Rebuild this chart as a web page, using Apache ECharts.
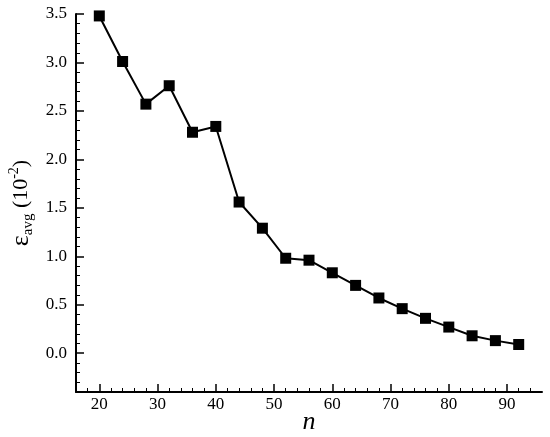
<!DOCTYPE html>
<html>
<head>
<meta charset="utf-8">
<script src="https://cdn.jsdelivr.net/npm/echarts@6/dist/echarts.min.js"></script>
<style>html,body{margin:0;padding:0;background:#fff;}#c{width:550px;height:437px;}</style>
</head>
<body>
<div id="c"></div>
<script>
const nValues = [20, 24, 28, 32, 36, 40, 44, 48, 52, 56, 60, 64, 68, 72, 76, 80, 84, 88, 92];
const epsAvg = [3.48, 3.01, 2.57, 2.76, 2.28, 2.34, 1.56, 1.29, 0.98, 0.96, 0.83, 0.70, 0.57, 0.46, 0.36, 0.27, 0.18, 0.13, 0.09];
const xTickLabels = [20, 30, 40, 50, 60, 70, 80, 90];
const yTickLabels = [0.0, 0.5, 1.0, 1.5, 2.0, 2.5, 3.0, 3.5];
const xMinorTicks = [18, 22, 24, 26, 28, 32, 34, 36, 38, 42, 44, 46, 48, 52, 54, 56, 58, 62, 64, 66, 68, 72, 74, 76, 78, 82, 84, 86, 88, 92, 94];
const yMinorTicks = [-0.3, -0.2, -0.1, 0.1, 0.2, 0.3, 0.4, 0.6, 0.7, 0.8, 0.9, 1.1, 1.2, 1.3, 1.4, 1.6, 1.7, 1.8, 1.9, 2.1, 2.2, 2.3, 2.4, 2.6, 2.7, 2.8, 2.9, 3.1, 3.2, 3.3, 3.4];

const FONT = '"Liberation Serif", "Times New Roman", serif';
const chart = echarts.init(document.getElementById('c'), null, {renderer: 'canvas'});
const X_MIN = 16, X_MAX = 96, Y_MIN = -0.4, Y_MAX = 3.5;

chart.setOption({
  animation: false,
  backgroundColor: '#fff',
  grid: {left: 76, right: 8, top: 14, bottom: 45, containLabel: false, outerBoundsMode: 'none'},
  xAxis: [{
    type: 'value', min: X_MIN, max: X_MAX, position: 'bottom',
    name: 'n', nameLocation: 'middle', nameGap: 17, nameMoveOverlap: false,
    nameTextStyle: {fontFamily: FONT, fontStyle: 'italic', fontSize: 26, color: '#000'},
    axisLine: {show: true, onZero: false, lineStyle: {color: '#000', width: 2}},
    axisTick: {show: true, inside: true, length: 8, customValues: xTickLabels, lineStyle: {color: '#000', width: 1.5}},
    axisLabel: {show: true, customValues: xTickLabels, margin: 4, fontFamily: FONT, fontSize: 17, color: '#000'},
    splitLine: {show: false}
  }, {
    type: 'value', min: X_MIN, max: X_MAX, position: 'bottom',
    axisLine: {show: false, onZero: false},
    axisTick: {show: true, inside: true, length: 4, customValues: xMinorTicks, lineStyle: {color: '#000', width: 1}},
    axisLabel: {show: false},
    splitLine: {show: false}
  }],
  yAxis: [{
    type: 'value', min: Y_MIN, max: Y_MAX, position: 'left',
    name: '{e|ε}{s|avg}{p| (10}{sup|-2}{p|)}', nameLocation: 'middle', nameGap: 38, nameRotate: 90, nameMoveOverlap: false,
    nameTextStyle: {
      fontFamily: FONT, color: '#000',
      rich: {
        e: {fontFamily: FONT, fontSize: 26, color: '#000', lineHeight: 34, verticalAlign: 'middle'},
        s: {fontFamily: FONT, fontSize: 15, color: '#000', lineHeight: 34, verticalAlign: 'bottom', padding: [0, 0, 2, 0]},
        p: {fontFamily: FONT, fontSize: 22, color: '#000', lineHeight: 34, verticalAlign: 'middle'},
        sup: {fontFamily: FONT, fontSize: 14, color: '#000', lineHeight: 34, verticalAlign: 'top', padding: [3, 0, 0, 0]}
      }
    },
    axisLine: {show: true, onZero: false, lineStyle: {color: '#000', width: 2}},
    axisTick: {show: true, inside: true, length: 8, customValues: yTickLabels, lineStyle: {color: '#000', width: 1.5}},
    axisLabel: {show: true, customValues: yTickLabels, margin: 9, fontFamily: FONT, fontSize: 17, color: '#000',
      formatter: v => v.toFixed(1)},
    splitLine: {show: false}
  }, {
    type: 'value', min: Y_MIN, max: Y_MAX, position: 'left',
    axisLine: {show: false, onZero: false},
    axisTick: {show: true, inside: true, length: 4, customValues: yMinorTicks, lineStyle: {color: '#000', width: 1}},
    axisLabel: {show: false},
    splitLine: {show: false}
  }],
  series: [{
    type: 'line',
    xAxisIndex: 0, yAxisIndex: 0,
    data: nValues.map((n, i) => [n, epsAvg[i]]),
    symbol: 'rect', symbolSize: 11, showAllSymbol: true,
    lineStyle: {color: '#000', width: 2},
    itemStyle: {color: '#000', borderWidth: 0},
    clip: false
  }]
});
</script>
</body>
</html>
